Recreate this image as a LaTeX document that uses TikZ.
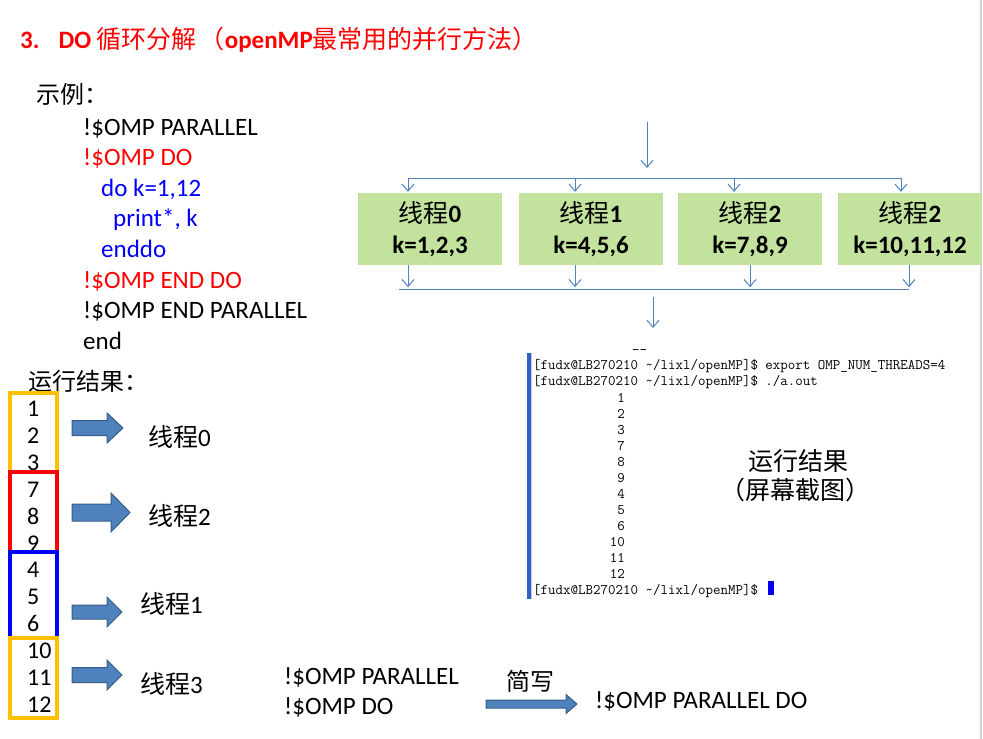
\documentclass[tikz,border=0pt]{standalone}
\usepackage{fontspec}
\usepackage{xcolor}
\usepackage{tikz}
\setmainfont{Carlito}
\newfontfamily\cjk{Noto Sans CJK SC}
\usetikzlibrary{calc,arrows.meta}

\definecolor{flowblue}{HTML}{4F81BD}
\definecolor{boxgreen}{HTML}{C3E29D}
\definecolor{arrowfill}{HTML}{4F81BD}
\definecolor{arrowedge}{HTML}{385D8A}
\definecolor{boxyellow}{HTML}{FFC000}
\definecolor{termbar}{HTML}{2F5FC8}

\newcommand{\zh}[1]{{\cjk\mdseries #1}}
% tail x, tip x, head x, centre y, shaft half, head half
\newcommand{\fatarrow}[6]{%
  \filldraw[fatarrow] (#1,#4-#5) -- (#3,#4-#5) -- (#3,#4-#6) -- (#2,#4)
    -- (#3,#4+#6) -- (#3,#4+#5) -- (#1,#4+#5) -- cycle;}

\tikzset{
  title/.style={anchor=base west, inner sep=0pt, red, font=\fontsize{25}{30}\selectfont},
  code/.style={anchor=base west, inner sep=0pt, font=\fontsize{25}{30}\selectfont},
  zhlabel/.style={anchor=base west, inner sep=0pt, font=\fontsize{24}{29}\selectfont},
  num/.style={anchor=base west, inner sep=0pt, font=\fontsize{24}{29}\selectfont},
  thread/.style={fill=boxgreen, minimum width=144pt, minimum height=72pt, inner sep=0pt,
    align=center, font=\bfseries\fontsize{25}{31}\selectfont},
  term/.style={anchor=base west, inner sep=0pt, font=\ttfamily\fontsize{14.55}{16}\selectfont},
  group/.style={line width=3.2pt},
  fatarrow/.style={fill=arrowfill, draw=arrowedge, line width=1pt},
  flowline/.style={draw=flowblue, line width=1pt},
  flow/.style={flowline, -{Straight Barb[length=7pt,width=12pt]}}
}

\begin{document}
\begin{tikzpicture}[x=1pt,y=-1pt]
\useasboundingbox (0,0) rectangle (983,739);
\draw[gray!35, line width=2pt] (981,0) -- (981,739);

% heading
\node[title] (head) at (20,48) {\bfseries 3.\hspace{19pt}DO \zh{循环分解}\hspace{3pt}\zh{（}openMP\zh{最常用的并行方法）}};

% example source
\node[zhlabel] (ex) at (36,103) {\zh{示例：}};
\node[code] (c1) at (83,135) {!\$OMP PARALLEL};
\node[code, red] (c2) at (83,165.6) {!\$OMP DO};
\node[code, blue] (c3) at (101,196.2) {do k=1,12};
\node[code, blue] (c4) at (113,226.8) {print*, k};
\node[code, blue] (c5) at (101,257.4) {enddo};
\node[code, red] (c6) at (83,288) {!\$OMP END DO};
\node[code] (c7) at (83,318.6) {!\$OMP END PARALLEL};
\node[code] (c8) at (83,349.2) {end};

% run result, left column
\node[zhlabel] (res) at (28,390) {\zh{运行结果：}};
\foreach \n [count=\i from 0] in {1,2,3,7,8,9,4,5,6,10,11,12}{
  \node[num] (n\n) at (27,416.5+26.9*\i) {\n};
}
\draw[group, boxyellow] (10,393) rectangle (57,472);
\draw[group, red] (10,472) rectangle (57,552);
\draw[group, blue] (10,552) rectangle (57,637.5);
\draw[group, boxyellow] (10,638) rectangle (57,718);

\fatarrow{72}{123}{107}{428}{7.5}{15}
\fatarrow{72}{130}{111}{512.5}{8.5}{19.5}
\fatarrow{72}{122}{107}{612}{7}{15}
\fatarrow{72}{122}{107}{675}{7.5}{15}
\node[zhlabel, font=\fontsize{25}{30}\selectfont] (l0) at (148,446) {\zh{线程}0};
\node[zhlabel, font=\fontsize{25}{30}\selectfont] (l2) at (148,525) {\zh{线程}2};
\node[zhlabel, font=\fontsize{25}{30}\selectfont] (l1) at (140,613) {\zh{线程}1};
\node[zhlabel, font=\fontsize{25}{30}\selectfont] (l3) at (140,693) {\zh{线程}3};

% fork / join
\node[thread] (b0) at (430,229) {\zh{线程}0\\k=1,2,3};
\node[thread] (b1) at (591,229) {\zh{线程}1\\k=4,5,6};
\node[thread] (b2) at (750,229) {\zh{线程}2\\k=7,8,9};
\node[thread] (b3) at (910,229) {\zh{线程}2\\k=10,11,12};

\coordinate (in0) at (647,122);
\coordinate (in1) at (647,168);
\draw[flow] (in0) -- (in1);
\coordinate (forkL) at (408,178);
\coordinate (forkR) at (901,178);
\draw[flowline] (forkL) -- (forkR);
\foreach \b/\dx in {b0/-22,b1/-16,b2/-16,b3/-9}{
  \draw[flow] ($(\b.north)+(\dx,-15)$) -- ($(\b.north)+(\dx,-1)$);
}
\foreach \b/\dx in {b0/-22,b1/-16,b2/0,b3/-1}{
  \draw[flow] ($(\b.south)+(\dx,0)$) -- ($(\b.south)+(\dx,22)$);
}
\coordinate (joinL) at (399,289);
\coordinate (joinR) at (909,289);
\draw[flowline] (joinL) -- (joinR);
\coordinate (out0) at (653,297);
\coordinate (out1) at (653,328);
\draw[flow] (out0) -- (out1);

% screen shot of the terminal
\fill[termbar] (527,353) rectangle (530.5,599);
\draw[gray!40] (531.5,353) -- (531.5,599);
\node[term] (t0) at (632,354.5) {-{}-};
\node[term] (t1) at (533,369.5) {[fudx@LB270210 \textasciitilde/lixl/openMP]\$ export OMP\_NUM\_THREADS=4};
\node[term] (t2) at (533,385.6) {[fudx@LB270210 \textasciitilde/lixl/openMP]\$ ./a.out};
\foreach \n [count=\i from 0] in {1,2,3,7,8,9,4,5,6,10,11,12}{
  \node[term, anchor=base east] (o\n) at (625,402+16.05*\i) {\n};
}
\node[term] (t3) at (533,594) {[fudx@LB270210 \textasciitilde/lixl/openMP]\$};
\fill[blue] (768,581) rectangle (774,595);
\node[font=\fontsize{25}{30}\selectfont, inner sep=0pt] (shot1) at (798,461) {\zh{运行结果}};
\node[font=\fontsize{25}{30}\selectfont, inner sep=0pt] (shot2) at (795,490) {\zh{（屏幕截图）}};

% short form
\node[code] (p1) at (284,684) {!\$OMP PARALLEL};
\node[code] (p2) at (284,714) {!\$OMP DO};
\fatarrow{486}{577}{566}{704}{4}{9.5}
\node[zhlabel] (abbr) at (506,690) {\zh{简写}};
\node[code] (p3) at (595,708) {!\$OMP PARALLEL DO};
\end{tikzpicture}
\end{document}
